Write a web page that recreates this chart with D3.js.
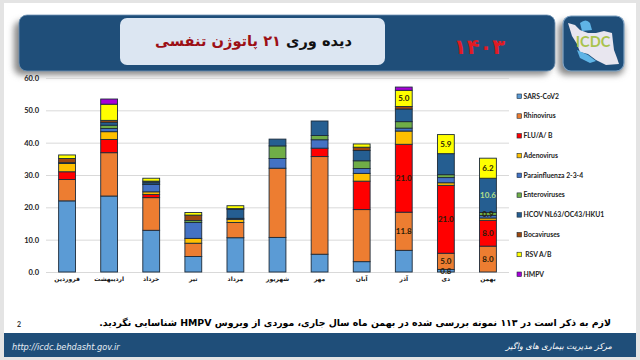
<!DOCTYPE html>
<html>
<head>
<meta charset="utf-8">
<script src="https://cdnjs.cloudflare.com/ajax/libs/d3/7.8.5/d3.min.js"></script>
<style>
  html, body { margin: 0; padding: 0; background: #fff; overflow: hidden; }
  svg { display: block; }
  .fa { font-family: "DejaVu Sans", sans-serif; font-weight: bold; }
  .lat { font-family: Lato, "Liberation Sans", sans-serif; font-weight: bold; }
</style>
</head>
<body>
<svg id="slide" width="640" height="360"></svg>
<script>
var months = ["فروردین", "اردیبهشت", "خرداد", "تیر", "مرداد", "شهریور", "مهر", "آبان", "آذر", "دی", "بهمن"];
var viruses = ["SARS-CoV2", "Rhinovirus", "FLU/A/ B", "Adenovirus", "Parainfluenza 2-3-4", "Enteroviruses", "HCOV NL63/OC43/HKU1", "Bocaviruses", " RSV A/B", "HMPV"];
var colors = ["#5b9bd5", "#ed7d31", "#ff0000", "#ffc000", "#4472c4", "#70ad47", "#255e91", "#9e480e", "#ffff00", "#a800d8"];

var sars   = [22.0, 23.5, 12.9, 4.8, 10.6, 10.7, 5.5, 3.2, 6.7, 0.8, 0];
var rhino  = [6.6, 13.4, 10.1, 4.1, 4.7, 21.4, 30.2, 16.1, 11.8, 5.0, 8.0];
var flu    = [2.4, 4.1, 1.0, 0, 0, 0, 2.6, 8.8, 21.0, 21.0, 8.0];
var adeno  = [2.6, 2.4, 0.8, 1.5, 1.0, 0, 0, 2.4, 4.1, 0.8, 0.7];
var para   = [0, 1.0, 2.3, 4.9, 0.3, 3.0, 2.6, 1.5, 0.9, 1.6, 0.8];
var entero = [0, 1.0, 0.1, 0.6, 0, 3.9, 1.3, 2.4, 2.0, 0.9, 0.9];
var hcov   = [0.2, 0.9, 0.6, 0, 2.8, 2.1, 4.5, 3.2, 3.9, 6.5, 10.6];
var boca   = [1.3, 0.6, 0.3, 1.7, 0.2, 0, 0, 1.0, 0.8, 0, 0];
var rsv    = [1.1, 5.0, 0.9, 0.8, 0.9, 0, 0, 1.0, 5.0, 5.9, 6.2];
var hmpv   = [0, 1.6, 0, 0, 0, 0, 0, 0, 1.0, 0, 0];
var seriesValues = [sars, rhino, flu, adeno, para, entero, hcov, boca, rsv, hmpv];

var yTicks = [0, 10, 20, 30, 40, 50, 60];

// [month index, series index] of the segments that carry a value label
var labelled = [[8, 1], [8, 2], [8, 8], [9, 0], [9, 1], [9, 2], [9, 8], [10, 1], [10, 2], [10, 5], [10, 6], [10, 8]];

var svg = d3.select("#slide");
var defs = svg.append("defs");
defs.append("filter").attr("id", "soft").attr("x", "-10%").attr("y", "-30%").attr("width", "120%").attr("height", "160%")
    .append("feGaussianBlur").attr("stdDeviation", 3);

// slide frame
svg.append("rect").attr("width", 640).attr("height", 360).attr("fill", "#e4e4e4");
svg.append("rect").attr("x", 4).attr("y", 3).attr("width", 632).attr("height", 354).attr("fill", "#fff");

// header
svg.append("rect").attr("x", 14).attr("y", 21).attr("width", 536).attr("height", 54).attr("rx", 8)
    .attr("fill", "#888").attr("filter", "url(#soft)");
svg.append("rect").attr("x", 19).attr("y", 15).attr("width", 536).attr("height", 56).attr("rx", 8)
    .attr("fill", "#1f4e79").attr("stroke", "#6f93b5").attr("stroke-width", 0.8);
svg.append("rect").attr("x", 120).attr("y", 18).attr("width", 265).attr("height", 47).attr("rx", 7)
    .attr("fill", "#dce6f2");

var title = svg.append("text").attr("class", "fa")
    .attr("x", 352).attr("y", 46).attr("direction", "rtl").attr("font-size", 14.6).attr("fill", "#9c0f16");
title.append("tspan").attr("fill", "#111").text("دیده وری ");
title.append("tspan").text("۲۱ پاتوژن تنفسی");

svg.append("text").attr("class", "fa")
    .attr("x", 479.5).attr("y", 54).attr("text-anchor", "middle").attr("font-size", 21)
    .attr("fill", "#e01b24").attr("letter-spacing", 0.5).text("۱۴۰۳");

// ICDC logo
var logo = svg.append("g");
logo.append("rect").attr("x", 558).attr("y", 21).attr("width", 66).attr("height", 54).attr("rx", 8)
    .attr("fill", "#888").attr("filter", "url(#soft)");
logo.append("rect").attr("x", 563).attr("y", 16).attr("width", 61).attr("height", 55).attr("rx", 8)
    .attr("fill", "#1f4e79").attr("stroke", "#7fa3c4").attr("stroke-width", 1.2);
logo.append("path").attr("fill", "#e8e6ef")
    .attr("d", "M568,23 L575,25 L580,30 L588,33 L596,33 L604,31 L612,33 L613,42 L614,50 L617,58 L619,64 L606,65 L596,60 L588,54 L580,52 L577,44 L572,36 Z");
logo.append("path").attr("fill", "#5fb4e6").attr("d", "M580,23 Q586,18 590,23 L592,30 L582,31 Z");
logo.append("path").attr("fill", "#5fb4e6").attr("d", "M577,50 L588,55 L596,61 L590,63 L580,58 Z");
logo.append("text").attr("class", "lat").attr("x", 593).attr("y", 47).attr("text-anchor", "middle")
    .attr("font-size", 14.5).attr("fill", "#a9c34d").text("ICDC");

// chart
var margin = {top: 78, left: 46, bottom: 88, right: 131},
    width = 640 - margin.left - margin.right,
    height = 360 - margin.top - margin.bottom;

var g = svg.append("g")
    .attr("transform", "translate(" + margin.left + "," + margin.top + ")");

var x = d3.scaleBand().domain(months).range([0, width]).paddingInner(0.6).paddingOuter(0.3);
var y = d3.scaleLinear().domain([0, 60]).range([height, 0]);

var rows = months.map(function(m, i) {
    var row = {month: m};
    viruses.forEach(function(v, j) { row[v] = seriesValues[j][i]; });
    return row;
});
var stacked = d3.stack().keys(viruses)(rows);

var yAxis = g.append("g")
    .call(d3.axisLeft(y).tickValues(yTicks).tickSize(-width).tickPadding(7).tickFormat(d3.format(".1f")));
yAxis.select(".domain").remove();
yAxis.selectAll("line").attr("stroke", "#d9d9d9").attr("stroke-width", 1);
yAxis.selectAll("text").attr("class", "lat").style("font-size", "7.5px").attr("fill", "#222");

var xAxis = g.append("g")
    .attr("transform", "translate(0," + height + ")")
    .call(d3.axisBottom(x).tickSize(0).tickPadding(5));
xAxis.select(".domain").remove();
xAxis.selectAll("text").attr("class", "fa").style("font-size", "6px").attr("fill", "#111");

var layers = g.selectAll("g.layer")
    .data(stacked)
    .enter()
    .append("g")
    .attr("class", "layer")
    .attr("fill", function(d, i) { return colors[i]; });

layers.selectAll("rect")
    .data(function(d) { return d.filter(function(s) { return s[1] > s[0]; }); })
    .enter()
    .append("rect")
    .attr("x", function(d) { return x(d.data.month); })
    .attr("y", function(d) { return y(d[1]); })
    .attr("width", x.bandwidth())
    .attr("height", function(d) { return y(d[0]) - y(d[1]); })
    .attr("stroke", "#1c2b3a")
    .attr("stroke-width", 0.9);

// value labels
g.selectAll("text.value")
    .data(labelled)
    .enter()
    .append("text")
    .attr("class", "value lat")
    .attr("x", function(d) { return x(months[d[0]]) + x.bandwidth() / 2; })
    .attr("y", function(d) {
        var s = stacked[d[1]][d[0]];
        return y((s[0] + s[1]) / 2) + 3;
    })
    .attr("text-anchor", "middle")
    .attr("font-size", 8)
    .attr("fill", function(d) { return d[1] === 6 ? "#b5e08a" : "#2a1c08"; })
    .text(function(d) { return seriesValues[d[1]][d[0]].toFixed(1); });

// legend
var legend = svg.append("g").attr("transform", "translate(517,96)");
var legendRow = d3.scaleLinear().domain([0, viruses.length - 1]).range([0, 178]);

legend.selectAll("rect")
    .data(viruses)
    .enter()
    .append("rect")
    .attr("x", 0)
    .attr("y", function(d, i) { return legendRow(i) - 2; })
    .attr("width", 4.5)
    .attr("height", 4.5)
    .attr("fill", function(d, i) { return colors[i]; })
    .attr("stroke", "#1c2b3a")
    .attr("stroke-width", 0.6);

legend.selectAll("text")
    .data(viruses)
    .enter()
    .append("text")
    .attr("class", "lat")
    .attr("x", 6.5)
    .attr("y", function(d, i) { return legendRow(i) + 2.5; })
    .attr("font-size", 6.8)
    .attr("fill", "#222")
    .attr("xml:space", "preserve")
    .text(function(d) { return d; });

// note and footer
svg.append("text").attr("class", "lat").attr("x", 17).attr("y", 327).attr("font-size", 7).attr("fill", "#333").text("2");
svg.append("text").attr("class", "fa")
    .attr("x", 611).attr("y", 326).attr("direction", "rtl").attr("font-size", 9.4).attr("fill", "#000")
    .text("لازم به ذکر است در ۱۱۳ نمونه بررسی شده در بهمن ماه سال جاری، موردی از ویروس HMPV شناسایی نگردید.");

svg.append("rect").attr("x", 4).attr("y", 333).attr("width", 632).attr("height", 24).attr("fill", "#1f4e79");
svg.append("text").attr("x", 12).attr("y", 350)
    .attr("font-family", "'DejaVu Sans', sans-serif").attr("font-style", "italic").attr("font-size", 8.2)
    .attr("fill", "#e8eef5").text("http://icdc.behdasht.gov.ir");
svg.append("text").attr("class", "fa").attr("x", 612).attr("y", 349).attr("direction", "rtl")
    .attr("font-style", "italic").attr("font-size", 8.2).attr("fill", "#fff").style("font-weight", "normal")
    .text("مرکز مدیریت بیماری های واگیر");
</script>
</body>
</html>
